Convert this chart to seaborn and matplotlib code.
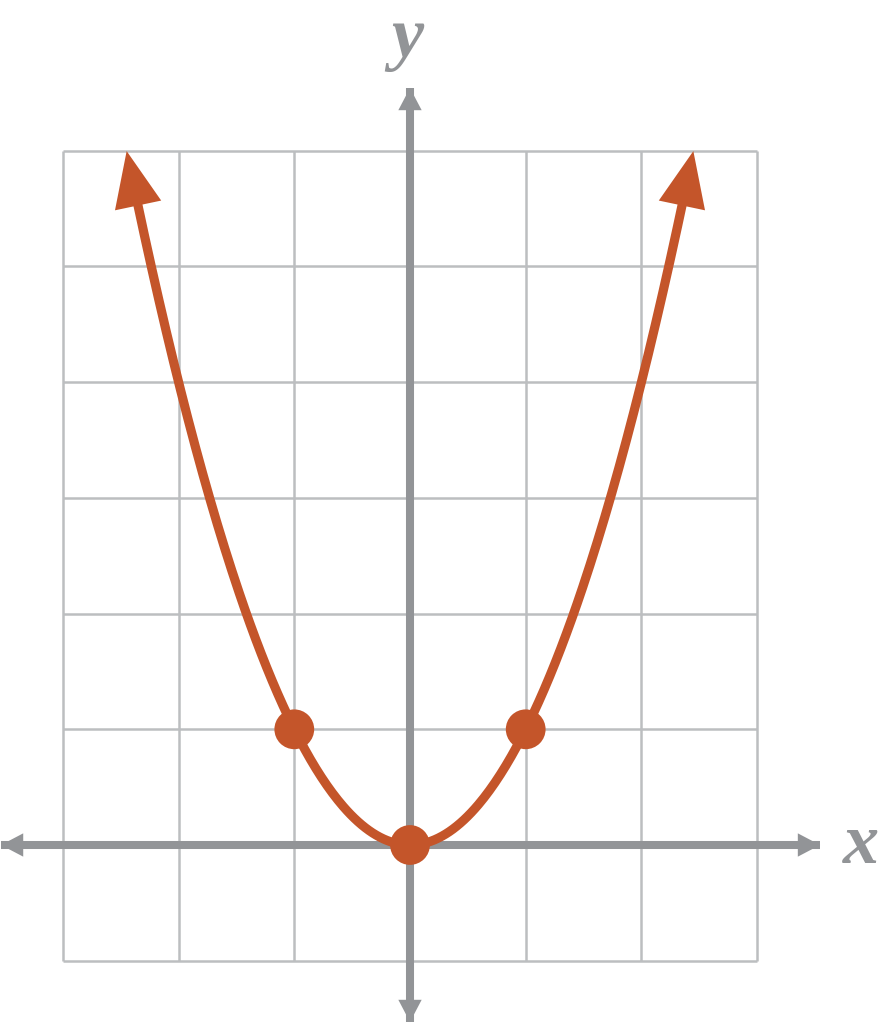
import numpy as np
import matplotlib
matplotlib.use("Agg")
import matplotlib.pyplot as plt
import seaborn as sns
import pandas as pd

# ---- data ----
grid_x = [-3, -2, -1, 0, 1, 2, 3]
grid_y = [-1, 0, 1, 2, 3, 4, 5, 6]
coef_a = 1.0                      # y = a * x^2
curve_x_end = 2.449               # arrow tips where curve reaches y = 6
point_x = [-1, 0, 1]
point_y = [1, 0, 1]
axis_x_range = [-3.535, 3.544]
axis_y_range = [-1.53, 6.543]

ORANGE = "#c4552a"
AXIS_GRAY = "#929497"
GRID_GRAY = "#bcbec0"

sns.set_theme(style="white")
fig = plt.figure(figsize=(8.83, 10.24), dpi=100)
ax = fig.add_axes([0, 0, 1, 1])
u = 115.7
ax.set_xlim(-410 / u, (883 - 410) / u)
ax.set_ylim(-(1024 - 845) / u, 845 / u)
ax.axis("off")

# grid
ax.vlines(grid_x, min(grid_y), max(grid_y), colors=GRID_GRAY, lw=1.8, zorder=1)
ax.hlines(grid_y, min(grid_x), max(grid_x), colors=GRID_GRAY, lw=1.8, zorder=1)

# axes with arrowheads
head_ax = "-|>,head_length=0.8,head_width=0.42"
ax.plot(axis_x_range, [0, 0], color=AXIS_GRAY, lw=5.8, solid_capstyle="butt", zorder=2)
ax.plot([0, 0], axis_y_range, color=AXIS_GRAY, lw=5.8, solid_capstyle="butt", zorder=2)
for tip, base in [((axis_x_range[0], 0), (axis_x_range[0] + 0.5, 0)),
                  ((axis_x_range[1], 0), (axis_x_range[1] - 0.5, 0)),
                  ((0, axis_y_range[0]), (0, axis_y_range[0] + 0.5)),
                  ((0, axis_y_range[1]), (0, axis_y_range[1] - 0.5))]:
    ax.annotate("", xy=tip, xytext=base,
                arrowprops=dict(arrowstyle=head_ax, color=AXIS_GRAY, lw=0,
                                shrinkA=0, shrinkB=0, mutation_scale=20),
                zorder=3)

# curve
xs = np.linspace(-2.36, 2.36, 300)
df = pd.DataFrame({"x": xs, "y": coef_a * xs ** 2})
sns.lineplot(data=df, x="x", y="y", sort=False, estimator=None, color=ORANGE,
             lw=6.6, ax=ax, zorder=4)
head_c = "-|>,head_length=2.0,head_width=0.85"
for s in (-1, 1):
    tip = (s * curve_x_end, coef_a * curve_x_end ** 2)
    bx = s * 2.3
    ax.annotate("", xy=tip, xytext=(bx, coef_a * bx ** 2),
                arrowprops=dict(arrowstyle=head_c, color=ORANGE, lw=0,
                                shrinkA=0, shrinkB=0, mutation_scale=20),
                zorder=5)

# points
sns.scatterplot(x=point_x, y=point_y, s=820, color=ORANGE, edgecolor="none",
                ax=ax, zorder=6)

# labels
lab = dict(family=["Liberation Serif", "DejaVu Serif"], style="italic",
           weight="bold", color=AXIS_GRAY, fontsize=52, va="baseline")
ax.text(4.055, -0.156, "x", ha="right", **lab)
ax.text(-0.02, 6.81, "y", ha="center", **lab)

fig.savefig("out.png", dpi=100)
